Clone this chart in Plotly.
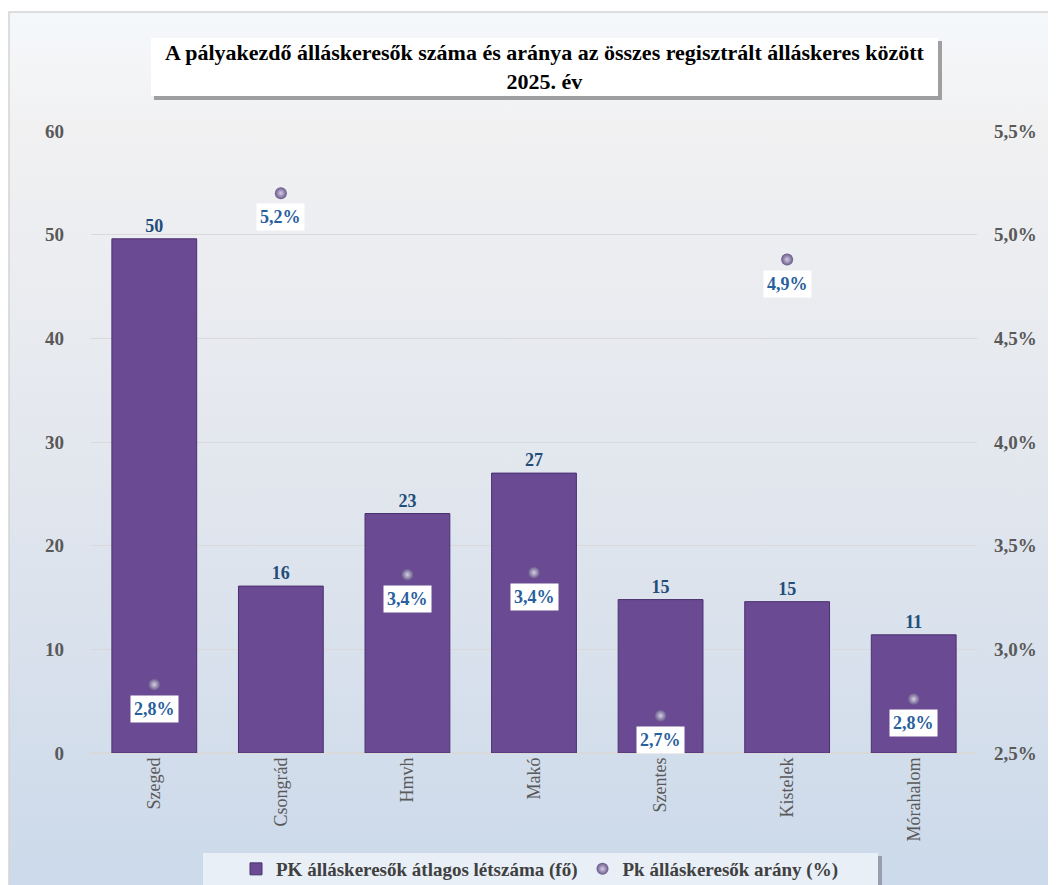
import base64
import plotly.graph_objects as go

# ---- data ----
categories = ["Szeged", "Csongrád", "Hmvh", "Makó", "Szentes", "Kistelek", "Mórahalom"]
pk_count = [49.6, 16.1, 23.1, 27.0, 14.8, 14.6, 11.4]
pk_ratio = [2.83, 5.20, 3.36, 3.37, 2.68, 4.88, 2.76]
left_ticks = [0, 10, 20, 30, 40, 50, 60]
right_ticks = [2.5, 3.0, 3.5, 4.0, 4.5, 5.0, 5.5]
right_ticktext = ["2,5%", "3,0%", "3,5%", "4,0%", "4,5%", "5,0%", "5,5%"]
title_lines = ["A pályakezdő álláskeresők száma és aránya az összes regisztrált álláskeres között", "2025. év"]
bar_name = "PK álláskeresők átlagos létszáma (fő)"
dot_name = "Pk álláskeresők arány (%)"

# page has an 8px body margin -> shift everything
OFF = 8
W, H = 1056 - OFF, 885 - OFF
L, R, T, B = 91, 977, 131, 753  # plot area in reference pixels


def px(x):
    return (x - L) / (R - L)


def py(y):
    return (B - y) / (B - T)


SERIF = "Liberation Serif, Times New Roman, serif"

fig = go.Figure()

fig.add_trace(go.Bar(
    x=categories, y=pk_count, name="<b>" + bar_name + "</b>",
    marker=dict(color="#6a4a92", line=dict(color="#4a3070", width=1)),
    width=0.67,
    text=[f"<b>{v:.0f}</b>" for v in pk_count], textposition="outside",
    textfont=dict(family=SERIF, size=18, color="#1f4e79"),
    cliponaxis=False,
))

fig.add_trace(go.Scatter(
    x=categories, y=pk_ratio, name="<b>" + dot_name + "</b>", yaxis="y2", mode="markers",
    marker=dict(size=12, color="#66568a", line=dict(width=0),
                gradient=dict(type="radial", color="#d6cee4")),
    cliponaxis=False,
))

annotations = []
for c, v in zip(categories, pk_ratio):
    annotations.append(dict(
        x=c, y=v, xref="x", yref="y2", yshift=-24, showarrow=False,
        text="<b>" + f"{v:.1f}".replace(".", ",") + "%</b>",
        bgcolor="white", borderpad=3,
        font=dict(family=SERIF, size=18, color="#2a5f9e"),
    ))

annotations.append(dict(
    x=px(545), y=py(67), xref="paper", yref="paper", showarrow=False,
    text="<br>".join("<b>" + t + "</b>" for t in title_lines),
    font=dict(family=SERIF, size=22, color="#000000"), align="center",
    xanchor="center", yanchor="middle",
))

svg = ('<svg xmlns="http://www.w3.org/2000/svg" width="100" height="100" preserveAspectRatio="none">'
       '<defs><linearGradient id="g" x1="0" y1="0" x2="0" y2="1">'
       '<stop offset="0" stop-color="#f5f8fb"/><stop offset="0.13" stop-color="#f1f1f2"/>'
       '<stop offset="0.5" stop-color="#e3e7ee"/>'
       '<stop offset="1" stop-color="#cbd9ea"/></linearGradient></defs>'
       '<rect width="100" height="100" fill="url(#g)"/></svg>')
src = "data:image/svg+xml;base64," + base64.b64encode(svg.encode()).decode()

shapes = [
    dict(type="rect", xref="paper", yref="paper", x0=px(9), x1=px(1070), y0=py(900), y1=py(12),
         line=dict(color="#d4d4d4", width=1.5), fillcolor="rgba(0,0,0,0)", layer="below"),
    dict(type="rect", xref="paper", yref="paper", x0=px(154), x1=px(942), y0=py(100), y1=py(41),
         line=dict(width=0), fillcolor="rgba(90,90,90,0.55)", layer="above"),
    dict(type="rect", xref="paper", yref="paper", x0=px(151), x1=px(938), y0=py(96), y1=py(38),
         line=dict(width=0), fillcolor="white", layer="above"),
    dict(type="rect", xref="paper", yref="paper", x0=px(206), x1=px(882), y0=py(900), y1=py(856),
         line=dict(width=0), fillcolor="rgba(110,110,120,0.55)", layer="below"),
    dict(type="rect", xref="paper", yref="paper", x0=px(203), x1=px(878), y0=py(900), y1=py(853),
         line=dict(width=0), fillcolor="#e9eff7", layer="below"),
]

fig.update_layout(
    width=W, height=H,
    margin=dict(l=L - OFF, r=W - (R - OFF), t=T - OFF, b=H - (B - OFF), pad=0, autoexpand=False),
    paper_bgcolor="white", plot_bgcolor="rgba(0,0,0,0)",
    showlegend=True,
    legend=dict(orientation="h", xref="container", yref="container",
                x=(540 - OFF) / W, xanchor="center", y=1 - (869 - OFF) / H, yanchor="middle",
                bgcolor="rgba(0,0,0,0)", font=dict(family=SERIF, size=19, color="#404040"),
                itemwidth=30, tracegroupgap=0),
    bargap=0.33,
    xaxis=dict(showgrid=False, showline=False, ticks="", tickangle=-90, automargin=False,
               tickfont=dict(family=SERIF, size=18, color="#595959")),
    yaxis=dict(range=[0, 60], tickvals=left_ticks,
               ticktext=[f"<b>{t}</b>" for t in left_ticks],
               showgrid=True, gridcolor="#d9d9d9", automargin=False,
               gridwidth=1, zeroline=True, zerolinecolor="#d9d9d9", showline=False,
               tickfont=dict(family=SERIF, size=19, color="#595959"),
               ticklabelstandoff=26),
    yaxis2=dict(range=[2.5, 5.5], overlaying="y", side="right", tickvals=right_ticks,
                ticktext=["<b>" + t + "</b>" for t in right_ticktext], automargin=False,
                showgrid=False, zeroline=False, showline=False,
                tickfont=dict(family=SERIF, size=19, color="#595959"),
                ticklabelstandoff=16),
    annotations=annotations,
    shapes=shapes,
    images=[dict(source=src, xref="paper", yref="paper", x=px(9), y=py(12),
                 sizex=px(1070) - px(9), sizey=py(12) - py(900),
                 xanchor="left", yanchor="top", sizing="stretch", layer="below")],
)

fig.write_html("out.html")
